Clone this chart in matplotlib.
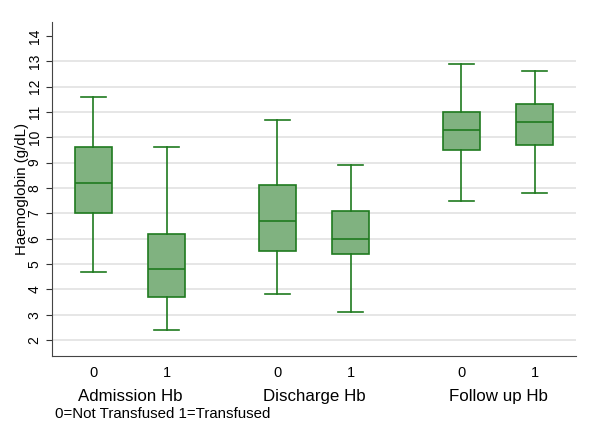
import matplotlib.pyplot as plt

plt.rcParams['font.family'] = ['Liberation Sans', 'DejaVu Sans']

# box stats (g/dL)
groups = ['Admission Hb', 'Discharge Hb', 'Follow up Hb']
transfused = ['0', '1', '0', '1', '0', '1']
whislo = [4.7, 2.4, 3.8, 3.1, 7.5, 7.8]
q1 = [7.0, 3.7, 5.5, 5.4, 9.5, 9.7]
med = [8.2, 4.8, 6.7, 6.0, 10.3, 10.6]
q3 = [9.6, 6.2, 8.1, 7.1, 11.0, 11.3]
whishi = [11.6, 9.6, 10.7, 8.9, 12.9, 12.6]

positions = [0, 1, 2.5, 3.5, 5, 6]

stats = []
for i in range(len(med)):
    stats.append({'whislo': whislo[i], 'q1': q1[i], 'med': med[i],
                  'q3': q3[i], 'whishi': whishi[i], 'fliers': []})

green = '#1f7a1f'
fill = '#80b280'

fig = plt.figure(figsize=(6, 4.43), dpi=100)
ax = fig.add_axes([52/600, 87/443, 524/600, 334/443])

ax.bxp(stats, positions=positions, widths=0.5, patch_artist=True,
       showfliers=False,
       boxprops=dict(facecolor=fill, edgecolor=green, linewidth=1.2),
       medianprops=dict(color=green, linewidth=1.2),
       whiskerprops=dict(color=green, linewidth=1.2),
       capprops=dict(color=green, linewidth=1.2),
       capwidths=0.34)

ax.set_xlim(-0.56, 6.56)
ax.set_ylim(1.37, 14.55)
ax.set_yticks(range(2, 15))
for v in range(2, 14):
    ax.axhline(v, color='#e2e2e2', linewidth=1.2, zorder=0)

ax.set_xticks(positions)
ax.set_xticklabels(transfused, fontsize=10.5)
ax.tick_params(axis='x', length=0, pad=7)
ax.tick_params(axis='y', labelsize=10, labelrotation=90, length=4, color='#333333')
for lab in ax.get_yticklabels():
    lab.set_va('center')

ax.set_ylabel('Haemoglobin (g/dL)', fontsize=10.8, labelpad=-1)

for s in ['top', 'right']:
    ax.spines[s].set_visible(False)
for s in ['left', 'bottom']:
    ax.spines[s].set_color('#444444')

# group labels under the ticks
centers = [0.5, 3.0, 5.5]
for c, g in zip(centers, groups):
    ax.text(c, -0.12, g, transform=ax.get_xaxis_transform(),
            ha='center', va='center', fontsize=12.2)

fig.text(55/600, 1 - 414/443, '0=Not Transfused 1=Transfused',
         ha='left', va='center', fontsize=10.8)

plt.savefig('out.png', dpi=100)
